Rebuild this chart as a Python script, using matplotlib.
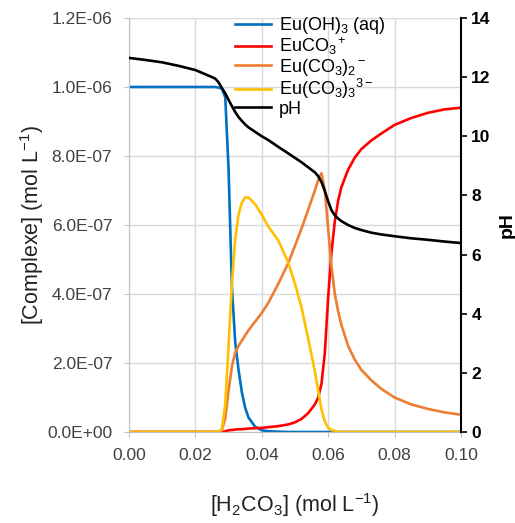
import matplotlib
matplotlib.use("Agg")
import matplotlib.pyplot as plt
from matplotlib.ticker import FuncFormatter, MultipleLocator

plt.rcParams["font.family"] = ["Liberation Sans", "DejaVu Sans"]
plt.rcParams["mathtext.fontset"] = "custom"
plt.rcParams["mathtext.rm"] = "Liberation Sans"
plt.rcParams["mathtext.it"] = "Liberation Sans"

# [H2CO3] (mol/L)
h2co3 = [0.000, 0.005, 0.010, 0.015, 0.020, 0.024, 0.026, 0.027, 0.028, 0.029,
         0.030, 0.031, 0.032, 0.033, 0.034, 0.035, 0.036, 0.038, 0.040, 0.042,
         0.045, 0.048, 0.050, 0.052, 0.054, 0.056, 0.057, 0.058, 0.059, 0.060,
         0.061, 0.062, 0.063, 0.064, 0.066, 0.068, 0.070, 0.073, 0.076, 0.080,
         0.085, 0.090, 0.095, 0.100]

# concentrations in units of 1e-7 mol/L
eu_oh3 = [10.0, 10.0, 10.0, 10.0, 10.0, 10.0, 10.0, 9.98, 9.95, 9.7,
          7.6, 4.2, 2.6, 1.8, 1.15, 0.7, 0.42, 0.15, 0.05, 0.02,
          0.01, 0, 0, 0, 0, 0, 0, 0, 0, 0,
          0, 0, 0, 0, 0, 0, 0, 0, 0, 0,
          0, 0, 0, 0]
euco3 = [0, 0, 0, 0, 0, 0, 0, 0, 0, 0.02,
         0.05, 0.06, 0.07, 0.08, 0.08, 0.09, 0.1, 0.11, 0.12, 0.14,
         0.17, 0.22, 0.28, 0.38, 0.55, 0.8, 1.0, 1.4, 2.3, 3.9,
         5.2, 6.1, 6.7, 7.1, 7.6, 7.95, 8.2, 8.45, 8.65, 8.9,
         9.1, 9.25, 9.35, 9.4]
eu_co3_2 = [0, 0, 0, 0, 0, 0, 0, 0, 0.05, 0.4,
            1.2, 1.9, 2.3, 2.5, 2.65, 2.8, 2.95, 3.2, 3.45, 3.75,
            4.3, 4.9, 5.4, 5.9, 6.45, 7.0, 7.3, 7.5, 7.0, 5.9,
            4.8, 4.0, 3.5, 3.1, 2.5, 2.1, 1.8, 1.5, 1.25, 1.0,
            0.8, 0.67, 0.57, 0.5]
eu_co3_3 = [0, 0, 0, 0, 0, 0, 0, 0, 0.1, 0.8,
            2.5, 4.3, 5.6, 6.3, 6.65, 6.8, 6.8, 6.6, 6.3, 5.95,
            5.55, 4.9, 4.3, 3.6, 2.7, 1.75, 1.2, 0.65, 0.3, 0.12,
            0.06, 0.03, 0.01, 0, 0, 0, 0, 0, 0, 0,
            0, 0, 0, 0]
ph = [12.65, 12.58, 12.5, 12.38, 12.24, 12.05, 11.95, 11.82, 11.63, 11.45,
      11.23, 11.02, 10.82, 10.65, 10.52, 10.4, 10.3, 10.15, 10.0, 9.87,
      9.64, 9.42, 9.27, 9.12, 8.95, 8.78, 8.65, 8.45, 8.15, 7.8,
      7.5, 7.33, 7.22, 7.13, 7.0, 6.9, 6.83, 6.74, 6.68, 6.62,
      6.55, 6.5, 6.44, 6.39]

labels = ["Eu(OH)$_3$ (aq)", "EuCO$_3$$^+$", "Eu(CO$_3$)$_2$$^-$",
          "Eu(CO$_3$)$_3$$^{3-}$", "pH"]
colors = ["#0070C0", "#FF0000", "#ED7D31", "#FFC000", "black"]

fig = plt.figure(figsize=(5.15, 5.23), dpi=100)
ax = fig.add_axes([0.2505, 0.174, 0.6445, 0.7916])
ax2 = ax.twinx()

series = [eu_oh3, euco3, eu_co3_2, eu_co3_3]
handles = []
for vals, lab, col in zip(series, labels[:4], colors[:4]):
    h, = ax.plot(h2co3, [v * 1e-7 for v in vals], color=col, lw=1.9, label=lab)
    handles.append(h)
h, = ax2.plot(h2co3, ph, color="black", lw=1.9, label="pH")
handles.append(h)

ax.set_xlim(0, 0.1)
ax.set_ylim(0, 1.2e-6)
ax2.set_ylim(0, 14)
ax.xaxis.set_major_locator(MultipleLocator(0.02))
ax.yaxis.set_major_locator(MultipleLocator(2e-7))
ax2.yaxis.set_major_locator(MultipleLocator(2))
ax.xaxis.set_major_formatter(FuncFormatter(lambda v, p: f"{v:.2f}"))
ax.yaxis.set_major_formatter(FuncFormatter(lambda v, p: f"{v:.1E}"))

ax.grid(True, color="#d9d9d9", lw=1.0)
ax.set_axisbelow(True)
for s in ["top", "right"]:
    ax.spines[s].set_visible(False)
for s in ["left", "bottom"]:
    ax.spines[s].set_color("#bfbfbf")
ax2.spines["top"].set_visible(False)
ax2.spines["left"].set_visible(False)
ax2.spines["bottom"].set_visible(False)
ax2.spines["right"].set_color("black")
ax2.spines["right"].set_linewidth(1.5)

ax.tick_params(axis="both", colors="#bfbfbf", labelcolor="#404040", labelsize=12.5, length=3.5)
ax.tick_params(axis="y", pad=8.5)
ax.tick_params(axis="x", pad=8)
ax2.tick_params(axis="y", colors="black", labelsize=12.5, length=4, width=1.2)
for t in ax2.get_yticklabels():
    t.set_fontweight("bold")

ax.set_xlabel("[H$_2$CO$_3$] (mol L$^{-1}$)", fontsize=15.5, color="#222222", labelpad=20)
ax.set_ylabel("[Complexe] (mol L$^{-1}$)", fontsize=15.5, color="#222222", labelpad=1)
ax2.set_ylabel("pH", fontsize=14, fontweight="bold", labelpad=6)

ax.legend(handles, labels, loc="upper left", bbox_to_anchor=(235 / 515, 1 - 15 / 523),
          bbox_transform=fig.transFigure, frameon=False, fontsize=13,
          handlelength=2.0, handletextpad=0.45, labelspacing=-0.03,
          borderpad=0, borderaxespad=0)

fig.savefig("out.png", dpi=100)
